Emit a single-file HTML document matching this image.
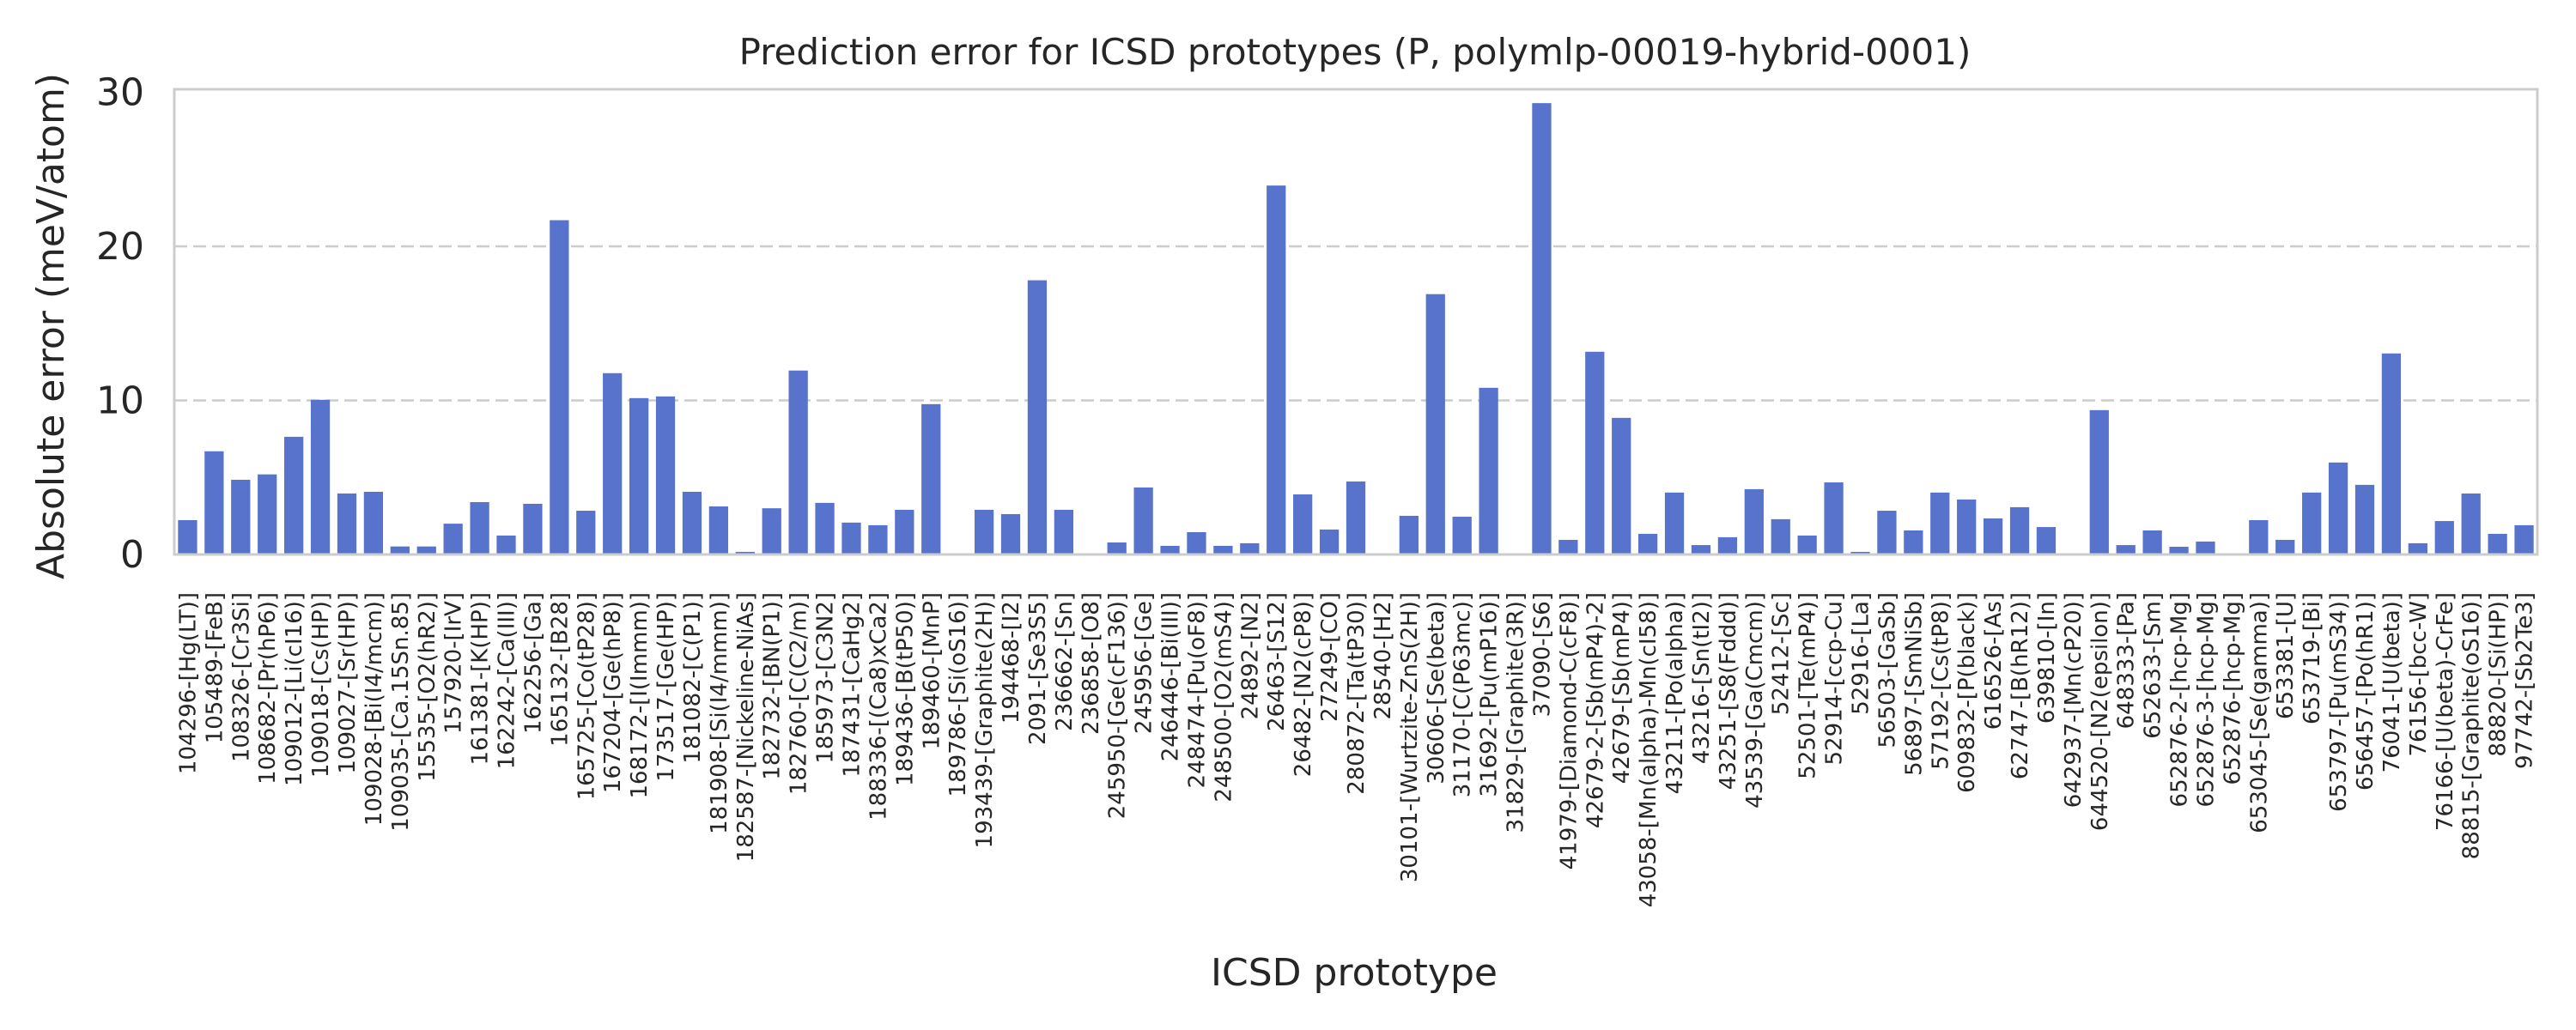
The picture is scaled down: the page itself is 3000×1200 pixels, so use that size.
<!DOCTYPE html>
<html><head><meta charset="utf-8"><style>
html,body{margin:0;padding:0;background:#fff;}
svg{display:block;font-family:"DejaVu Sans","Liberation Sans",sans-serif;}
</style></head><body>
<svg id="chart" width="3000" height="1200" viewBox="0 0 3000 1200" xmlns="http://www.w3.org/2000/svg">
<rect x="0" y="0" width="3000" height="1200" fill="#ffffff"/>
<text x="1578" y="75" text-anchor="middle" font-size="42" fill="#262626">Prediction error for ICSD prototypes (P, polymlp-00019-hybrid-0001)</text>
<g id="grid"></g>
<g id="bars"></g>
<g id="yticks"></g>
<g id="xticks"></g>
<rect x="203" y="104" width="2752" height="542" fill="none" stroke="#cccccc" stroke-width="3"/>
<text x="0" y="0" transform="translate(74,380) rotate(-90)" text-anchor="middle" font-size="44" fill="#262626">Absolute error (meV/atom)</text>
<text x="1577" y="1148" text-anchor="middle" font-size="44" fill="#262626">ICSD prototype</text>
</svg>
<script>
const categories = ["104296-[Hg(LT)]","105489-[FeB]","108326-[Cr3Si]","108682-[Pr(hP6)]","109012-[Li(cI16)]","109018-[Cs(HP)]","109027-[Sr(HP)]","109028-[Bi(I4/mcm)]","109035-[Ca.15Sn.85]","15535-[O2(hR2)]","157920-[IrV]","161381-[K(HP)]","162242-[Ca(III)]","162256-[Ga]","165132-[B28]","165725-[Co(tP28)]","167204-[Ge(hP8)]","168172-[I(Immm)]","173517-[Ge(HP)]","181082-[C(P1)]","181908-[Si(I4/mmm)]","182587-[Nickeline-NiAs]","182732-[BN(P1)]","182760-[C(C2/m)]","185973-[C3N2]","187431-[CaHg2]","188336-[(Ca8)xCa2]","189436-[B(tP50)]","189460-[MnP]","189786-[Si(oS16)]","193439-[Graphite(2H)]","194468-[I2]","2091-[Se3S5]","236662-[Sn]","236858-[O8]","245950-[Ge(cF136)]","245956-[Ge]","246446-[Bi(III)]","248474-[Pu(oF8)]","248500-[O2(mS4)]","24892-[N2]","26463-[S12]","26482-[N2(cP8)]","27249-[CO]","280872-[Ta(tP30)]","28540-[H2]","30101-[Wurtzite-ZnS(2H)]","30606-[Se(beta)]","31170-[C(P63mc)]","31692-[Pu(mP16)]","31829-[Graphite(3R)]","37090-[S6]","41979-[Diamond-C(cF8)]","42679-2-[Sb(mP4)-2]","42679-[Sb(mP4)]","43058-[Mn(alpha)-Mn(cI58)]","43211-[Po(alpha)]","43216-[Sn(tI2)]","43251-[S8(Fddd)]","43539-[Ga(Cmcm)]","52412-[Sc]","52501-[Te(mP4)]","52914-[ccp-Cu]","52916-[La]","56503-[GaSb]","56897-[SmNiSb]","57192-[Cs(tP8)]","609832-[P(black)]","616526-[As]","62747-[B(hR12)]","639810-[In]","642937-[Mn(cP20)]","644520-[N2(epsilon)]","648333-[Pa]","652633-[Sm]","652876-2-[hcp-Mg]","652876-3-[hcp-Mg]","652876-[hcp-Mg]","653045-[Se(gamma)]","653381-[U]","653719-[Bi]","653797-[Pu(mS34)]","656457-[Po(hR1)]","76041-[U(beta)]","76156-[bcc-W]","76166-[U(beta)-CrFe]","88815-[Graphite(oS16)]","88820-[Si(HP)]","97742-[Sb2Te3]"];
const errorValues = [2.23,6.7,4.85,5.2,7.64,10.04,3.96,4.07,0.52,0.52,2.0,3.4,1.23,3.29,21.7,2.84,11.77,10.15,10.26,4.07,3.12,0.17,3.0,11.94,3.35,2.07,1.9,2.9,9.76,0.06,2.9,2.62,17.8,2.9,0.06,0.78,4.35,0.56,1.45,0.56,0.73,23.95,3.9,1.62,4.74,0,2.51,16.9,2.45,10.82,0,29.3,0.95,13.16,8.87,1.34,4.02,0.61,1.12,4.24,2.29,1.23,4.68,0.17,2.84,1.56,4.02,3.57,2.34,3.07,1.78,0,9.37,0.61,1.56,0.5,0.84,0,2.23,0.95,4.02,5.97,4.52,13.05,0.73,2.17,3.96,1.34,1.9];
const yTickValues = [0,10,20,30];
const gridValues = [10,20];

const NS = "http://www.w3.org/2000/svg";
const plotLeft = 203, plotRight = 2955, plotTop = 104, plotBottom = 646;
const yMax = 30.2;
function yScale(v){ return plotBottom - (v / yMax) * (plotBottom - plotTop); }
const band = (plotRight - plotLeft) / categories.length;
function xCenter(i){ return plotLeft + band * (i + 0.5); }
const barW = band * 0.72;

const grid = document.getElementById('grid');
gridValues.forEach(v => {
  const l = document.createElementNS(NS, 'line');
  l.setAttribute('x1', plotLeft); l.setAttribute('x2', plotRight);
  l.setAttribute('y1', yScale(v)); l.setAttribute('y2', yScale(v));
  l.setAttribute('stroke', '#cccccc'); l.setAttribute('stroke-width', '2.5');
  l.setAttribute('stroke-dasharray', '15 7');
  
  
  grid.appendChild(l);
});

const yt = document.getElementById('yticks');
yTickValues.forEach(v => {
  const t = document.createElementNS(NS, 'text');
  t.setAttribute('x', 168); t.setAttribute('y', yScale(v) + 15);
  t.setAttribute('text-anchor', 'end'); t.setAttribute('font-size', '44');
  t.setAttribute('fill', '#262626');
  t.textContent = v;
  
  
  yt.appendChild(t);
});

const bars = document.getElementById('bars');
const xt = document.getElementById('xticks');
categories.forEach((c, i) => {
  const v = errorValues[i];
  const r = document.createElementNS(NS, 'rect');
  r.setAttribute('x', xCenter(i) - barW / 2);
  r.setAttribute('y', yScale(v));
  r.setAttribute('width', barW);
  r.setAttribute('height', Math.max(0, plotBottom - yScale(v)));
  r.setAttribute('fill', '#5773cc');
  
  
  bars.appendChild(r);
  const t = document.createElementNS(NS, 'text');
  const cx = xCenter(i) + 9;
  t.setAttribute('transform', 'translate(' + cx + ',690) rotate(-90)');
  t.setAttribute('text-anchor', 'end');
  t.setAttribute('font-size', '26');
  t.setAttribute('fill', '#262626');
  t.textContent = c;
  
  
  xt.appendChild(t);
});
</script>
</body></html>
